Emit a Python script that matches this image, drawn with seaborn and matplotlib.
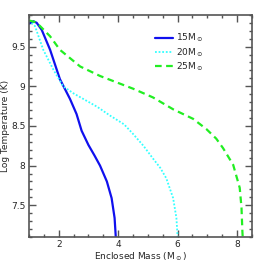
import numpy as np
import pandas as pd
import matplotlib
matplotlib.use("Agg")
import matplotlib.pyplot as plt
from matplotlib.ticker import MultipleLocator, FormatStrFormatter
import seaborn as sns

# enclosed mass (Msun) vs log temperature
m15 = [1.0, 1.15, 1.26, 1.43, 1.71, 2.04, 2.38, 2.6, 2.77, 3.0, 3.2, 3.39, 3.62, 3.78, 3.88, 3.92]
t15 = [9.79, 9.82, 9.8, 9.71, 9.46, 9.09, 8.84, 8.65, 8.44, 8.26, 8.13, 8.0, 7.8, 7.59, 7.34, 7.1]

m20 = [1.0, 1.2, 1.48, 1.82, 2.15, 2.5, 2.83, 3.3, 3.73, 4.2, 4.5, 4.85, 5.17, 5.42, 5.62, 5.85, 5.96, 6.0]
t20 = [9.83, 9.76, 9.46, 9.21, 9.0, 8.91, 8.84, 8.74, 8.63, 8.52, 8.4, 8.25, 8.09, 7.97, 7.84, 7.59, 7.34, 7.1]

m25 = [1.0, 1.2, 1.37, 1.71, 2.04, 2.72, 3.39, 4.5, 5.17, 5.85, 6.52, 6.97, 7.3, 7.53, 7.87, 8.09, 8.15, 8.18, 8.19]
t25 = [9.83, 9.81, 9.76, 9.63, 9.46, 9.25, 9.13, 8.97, 8.86, 8.71, 8.59, 8.46, 8.34, 8.22, 8.01, 7.72, 7.47, 7.17, 7.1]

labels = [r"15M$_\odot$", r"20M$_\odot$", r"25M$_\odot$"]

sns.set_style("ticks")
plt.rcParams['font.family'] = ['DejaVu Sans']

fig = plt.figure(figsize=(2.66, 2.66), dpi=100)
ax = fig.add_axes([0.109, 0.109, 0.838, 0.835])

sns.lineplot(x=m15, y=t15, ax=ax, sort=False, estimator=None, color="#1010ee",
             lw=1.6, label=labels[0])
sns.lineplot(x=m20, y=t20, ax=ax, sort=False, estimator=None, color="#33ffff",
             lw=1.3, linestyle=(0, (1, 1)), label=labels[1])
sns.lineplot(x=m25, y=t25, ax=ax, sort=False, estimator=None, color="#22ee22",
             lw=1.6, linestyle=(0, (3, 2)), label=labels[2])

ax.set_xlim(1.0, 8.5)
ax.set_ylim(7.1, 9.9)
ax.xaxis.set_major_locator(MultipleLocator(2))
ax.xaxis.set_minor_locator(MultipleLocator(0.5))
ax.yaxis.set_major_locator(MultipleLocator(0.5))
ax.yaxis.set_minor_locator(MultipleLocator(0.1))
ax.xaxis.set_major_formatter(FormatStrFormatter("%g"))
ax.yaxis.set_major_formatter(FormatStrFormatter("%g"))
ax.tick_params(which="both", direction="in", top=True, right=True,
               labelsize=6.5, color="#555555", width=1, pad=2.5)
ax.tick_params(which="major", length=5)
ax.tick_params(which="minor", length=2.5)
for s in ax.spines.values():
    s.set_color("#555555")
    s.set_linewidth(1.2)

ax.set_xlabel(r"Enclosed Mass (M$_\odot$)", fontsize=6.5, labelpad=1)
ax.set_ylabel("Log Temperature (K)", fontsize=6.5, labelpad=1)

ax.legend(loc="upper right", bbox_to_anchor=(0.82, 0.96), frameon=False,
          fontsize=6.5, handlelength=2.0, handletextpad=0.4, labelspacing=0.2)

fig.savefig("out.png", dpi=100)
